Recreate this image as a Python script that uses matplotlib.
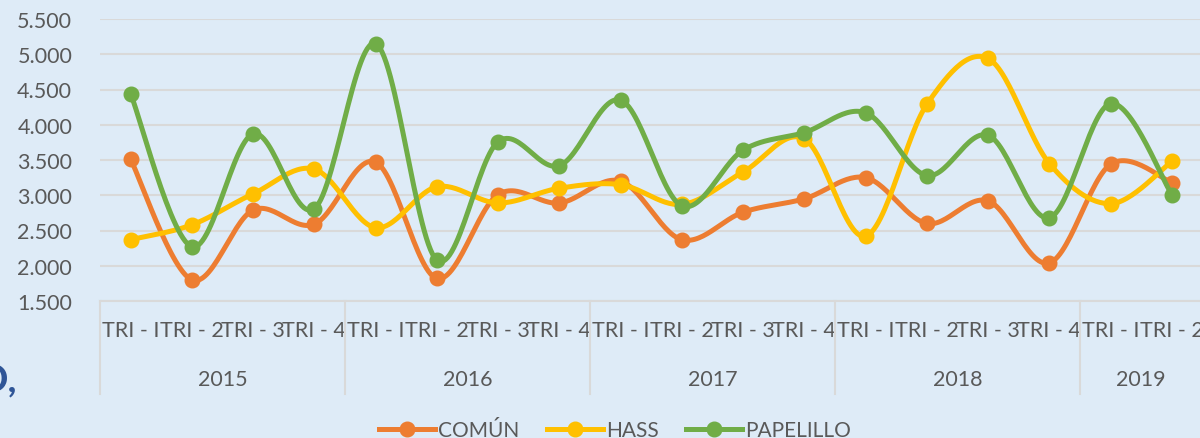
import numpy as np
import matplotlib
matplotlib.use("Agg")
import matplotlib.pyplot as plt
import matplotlib.transforms as mtransforms

years = ["2015", "2016", "2017", "2018", "2019"]
quarters = ["TRI - I", "TRI - 2", "TRI - 3", "TRI - 4"]
year_sizes = [4, 4, 4, 4, 2]

comun = [3510, 1800, 2790, 2590, 3470, 1820, 3010, 2890, 3200, 2370,
         2760, 2950, 3250, 2600, 2920, 2040, 3440, 3180]
hass = [2370, 2580, 3020, 3370, 2540, 3120, 2890, 3100, 3150, 2870,
        3330, 3800, 2420, 4290, 4940, 3450, 2880, 3480]
papelillo = [4440, 2270, 3870, 2810, 5150, 2080, 3760, 3420, 4350, 2850,
             3640, 3890, 4170, 3280, 3850, 2680, 4300, 3010]

series = [("COMÚN", comun, "#ED7D31"),
          ("HASS", hass, "#FFC000"),
          ("PAPELILLO", papelillo, "#70AD47")]

plt.rcParams["font.family"] = ["Lato", "DejaVu Sans"]
bg = "#DEEBF7"
txt = "#595959"


def smooth(y, n=30):
    # curva suavizada estilo Excel (Catmull-Rom con Bezier)
    y = np.asarray(y, dtype=float)
    x = np.arange(len(y), dtype=float)
    p = np.concatenate([[y[0]], y, [y[-1]]])
    px = np.concatenate([[x[0]], x, [x[-1]]])
    xs, ys = [], []
    t = np.linspace(0, 1, n)
    for i in range(len(y) - 1):
        x0, x1, x2, x3 = px[i], px[i + 1], px[i + 2], px[i + 3]
        y0, y1, y2, y3 = p[i], p[i + 1], p[i + 2], p[i + 3]
        c1x, c1y = x1 + (x2 - x0) / 6, y1 + (y2 - y0) / 6
        c2x, c2y = x2 - (x3 - x1) / 6, y2 - (y3 - y1) / 6
        bx = (1 - t) ** 3 * x1 + 3 * (1 - t) ** 2 * t * c1x + 3 * (1 - t) * t ** 2 * c2x + t ** 3 * x2
        by = (1 - t) ** 3 * y1 + 3 * (1 - t) ** 2 * t * c1y + 3 * (1 - t) * t ** 2 * c2y + t ** 3 * y2
        xs.append(bx)
        ys.append(by)
    return np.concatenate(xs), np.concatenate(ys)


fig = plt.figure(figsize=(12, 4.39), dpi=100, facecolor=bg)
ax = fig.add_axes([100 / 1200, 137 / 439, 1102.5 / 1200, 282 / 439])
ax.set_facecolor(bg)

for name, vals, col in series:
    sx, sy = smooth(vals)
    ax.plot(sx, sy, color=col, lw=3.6, solid_capstyle="round")
    ax.plot(np.arange(len(vals)), vals, "o", color=col, ms=10.5)
    ax.plot([], [], color=col, lw=3.6, marker="o", ms=10.5, label=name)

ax.set_ylim(1500, 5500)
ax.set_yticks(np.arange(1500, 5501, 500))
ax.set_yticklabels([f"{v/1000:.3f}" for v in np.arange(1500, 5501, 500)])
ax.set_xlim(-0.5, 17.5)
ax.grid(axis="y", color="#D9D9D9", lw=1.5)
ax.set_axisbelow(True)
for s in ["top", "right", "left"]:
    ax.spines[s].set_visible(False)
ax.spines["bottom"].set_color("#D9D9D9")
ax.spines["bottom"].set_linewidth(1.5)
ax.tick_params(axis="y", length=0, labelsize=15.5, labelcolor=txt, pad=20)

labels = []
for n in year_sizes:
    labels += quarters[:n]
ax.set_xticks(np.arange(len(labels)))
ax.set_xticklabels(labels)
ax.tick_params(axis="x", length=0, labelsize=15.5, labelcolor=txt, pad=14)

trans = mtransforms.blended_transform_factory(ax.transData, ax.transAxes)
start = -0.5
for yr, n in zip(years, year_sizes):
    ax.plot([start, start], [0, -93 / 282], color="#D9D9D9", lw=1.5,
            transform=trans, clip_on=False)
    ax.text(start + n / 2, -78 / 282, yr, transform=trans, ha="center",
            va="center", fontsize=15.5, color=txt)
    start += n

fig.text(17 / 1200, 1 - 380 / 439, "O,", ha="right", va="center",
         fontsize=28, color="#2F5597", fontweight="bold")

fig.legend(loc="center", bbox_to_anchor=(615 / 1200, 1 - 431 / 439), ncol=3,
           frameon=False, fontsize=15, labelcolor=txt, handlelength=2.7,
           columnspacing=1.3, handletextpad=0.15)

fig.savefig("out.png", dpi=100, facecolor=bg)
